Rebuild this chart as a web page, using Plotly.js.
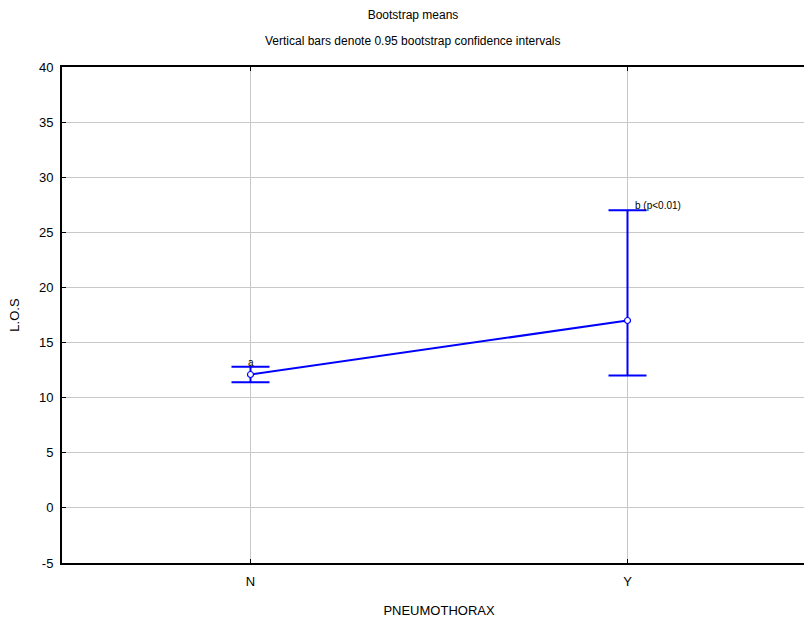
<!DOCTYPE html>
<html>
<head>
<meta charset="utf-8">
<script src="https://cdn.plot.ly/plotly-3.0.1.min.js"></script>
<style>
html,body{margin:0;padding:0;overflow:hidden;background:#fff;}
#chart{width:820px;height:621px;}
</style>
</head>
<body>
<div id="chart"></div>
<script>
// Data
const categories = ["N", "Y"];
const means = [12.1, 17.0];
const ciLower = [11.4, 12.0];
const ciUpper = [12.8, 27.0];
const groupLabels = ["a", "b (p<0.01)"];
const yTickVals = [-5, 0, 5, 10, 15, 20, 25, 30, 35, 40];

const errPlus = means.map((m, i) => ciUpper[i] - m);
const errMinus = means.map((m, i) => m - ciLower[i]);

const FONT = "Liberation Sans, Arial, sans-serif";

const trace = {
  type: "scatter",
  mode: "lines+markers",
  x: categories,
  y: means,
  line: {color: "#0000ff", width: 2},
  marker: {symbol: "circle", size: 6, color: "#ffffff", line: {color: "#0000ff", width: 1.2}},
  error_y: {
    type: "data",
    symmetric: false,
    array: errPlus,
    arrayminus: errMinus,
    color: "#0000ff",
    thickness: 2,
    width: 19
  },
  cliponaxis: false,
  showlegend: false
};

const annotations = [
  {
    text: "Vertical bars denote 0.95 bootstrap confidence intervals",
    xref: "paper", yref: "paper",
    x: 0.4655, y: 1 + (67 - 41) / 496,
    xanchor: "center", yanchor: "middle",
    showarrow: false,
    font: {family: FONT, size: 12, color: "#000"}
  },
  {
    text: groupLabels[0],
    x: categories[0], y: ciUpper[0],
    xref: "x", yref: "y",
    xanchor: "center", yanchor: "bottom",
    yshift: -3,
    showarrow: false,
    font: {family: FONT, size: 10, color: "#000"}
  },
  {
    text: groupLabels[1],
    x: categories[1], y: ciUpper[1],
    xref: "x", yref: "y",
    xanchor: "left", yanchor: "bottom",
    xshift: 5, yshift: -3,
    showarrow: false,
    font: {family: FONT, size: 10, color: "#000"}
  }
];

const layout = {
  width: 820,
  height: 621,
  margin: {l: 62, r: 4, t: 67, b: 58},
  paper_bgcolor: "#ffffff",
  plot_bgcolor: "#ffffff",
  font: {family: FONT, size: 13, color: "#000"},
  title: {
    text: "Bootstrap means",
    font: {family: FONT, size: 12, color: "#000"},
    xref: "paper", x: 0.4655, xanchor: "center",
    yref: "container", y: 1 - 15 / 621, yanchor: "middle"
  },
  xaxis: {
    type: "category",
    range: [-0.5, 1.5],
    showgrid: true,
    gridcolor: "#c8c8c8",
    gridwidth: 1,
    showline: true,
    linecolor: "#000",
    linewidth: 2,
    mirror: "ticks",
    ticks: "inside",
    ticklen: 4,
    tickcolor: "#000",
    ticklabelstandoff: 5,
    tickfont: {family: FONT, size: 13, color: "#000"},
    zeroline: false,
    title: {text: "PNEUMOTHORAX", font: {family: FONT, size: 13, color: "#000"}, standoff: 18}
  },
  yaxis: {
    range: [-5, 40],
    tickmode: "array",
    tickvals: yTickVals,
    ticktext: yTickVals.map(String),
    showgrid: true,
    gridcolor: "#c8c8c8",
    gridwidth: 1,
    showline: true,
    linecolor: "#000",
    linewidth: 2,
    mirror: "ticks",
    ticks: "inside",
    ticklen: 4,
    tickcolor: "#000",
    ticklabelstandoff: 4,
    tickfont: {family: FONT, size: 13, color: "#000"},
    zeroline: false,
    title: {text: "L.O.S", font: {family: FONT, size: 13, color: "#000"}, standoff: 16}
  },
  annotations: annotations
};

Plotly.newPlot("chart", [trace], layout, {displayModeBar: false, staticPlot: true});
</script>
</body>
</html>
